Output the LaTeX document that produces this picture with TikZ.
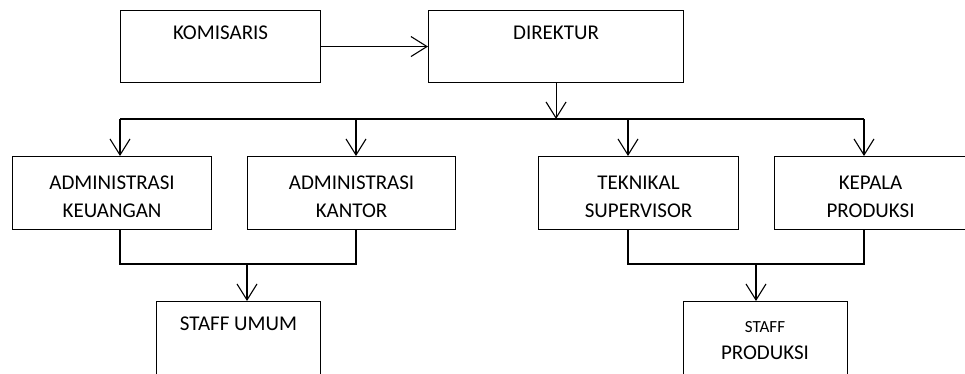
\documentclass[tikz,border=0pt]{standalone}
\usepackage{fontspec}
\setmainfont{Carlito}
\usetikzlibrary{arrows.meta}
\begin{document}
\begin{tikzpicture}[x=1pt,y=-1pt,
  line width=1.1pt,
  box/.style={draw, inner sep=0pt, anchor=north west},
  boxfont/.style={font=\fontsize{21}{28}\selectfont, align=center, inner sep=0pt},
  toptext/.style={label={[anchor=center, yshift=-23pt, boxfont]north:#1}},
  midtext/.style={label={[anchor=center, yshift=-3.5pt, boxfont]center:#1}},
  arr/.style={-{Straight Barb[length=16pt,width=20pt]}}]
\useasboundingbox (0,0) rectangle (965,374);
\clip (0,0) rectangle (965,374);

% top level
\node[box, minimum width=200pt, minimum height=72pt, toptext=KOMISARIS] (kom) at (120,10) {};
\node[box, minimum width=255pt, minimum height=72pt, toptext=DIREKTUR] (dir) at (428,10) {};

% second level
\node[box, minimum width=199pt, minimum height=73pt,
  midtext={ADMINISTRASI\\KEUANGAN}] (keu) at (12,156) {};
\node[box, minimum width=208pt, minimum height=73pt,
  midtext={ADMINISTRASI\\KANTOR}] (kan) at (247,156) {};
\node[box, minimum width=200pt, minimum height=73pt,
  midtext={TEKNIKAL\\SUPERVISOR}] (tek) at (538,156) {};
\node[box, minimum width=192pt, minimum height=73pt,
  midtext={KEPALA\\PRODUKSI}] (kep) at (774,156) {};

% third level
\node[box, minimum width=164pt, minimum height=100pt, toptext={STAFF UMUM}] (su) at (156,301) {};
\node[box, minimum width=164pt, minimum height=100pt] (sp) at (683,301) {};
\node[font=\fontsize{17}{20}\selectfont, anchor=center, inner sep=0pt] (spa) at (765,327) {STAFF};
\node[font=\fontsize{21}{24}\selectfont, anchor=center, inner sep=0pt] (spb) at (765,353) {PRODUKSI};

% branch points
\coordinate (c1) at (120,119);
\coordinate (c2) at (356,119);
\coordinate (c3) at (628,119);
\coordinate (c4) at (864,119);
\coordinate (j1) at (247,264);
\coordinate (j2) at (756,264);

% connectors
\draw[arr] (kom.east) -- (dir.west);
\draw[arr] (dir.south) -- (dir.south |- c1);
\draw (c1) -- (c4);
\draw[arr] (c1) -- (c1 |- keu.north);
\draw[arr] (c2) -- (c2 |- kan.north);
\draw[arr] (c3) -- (c3 |- tek.north);
\draw[arr] (c4) -- (c4 |- kep.north);

\draw (keu.south -| c1) -- (c1 |- j1) -- (c2 |- j1) -- (kan.south -| c2);
\draw[arr] (j1) -- (j1 |- su.north);
\draw (tek.south -| c3) -- (c3 |- j2) -- (c4 |- j2) -- (kep.south -| c4);
\draw[arr] (j2) -- (j2 |- sp.north);
\end{tikzpicture}
\end{document}
